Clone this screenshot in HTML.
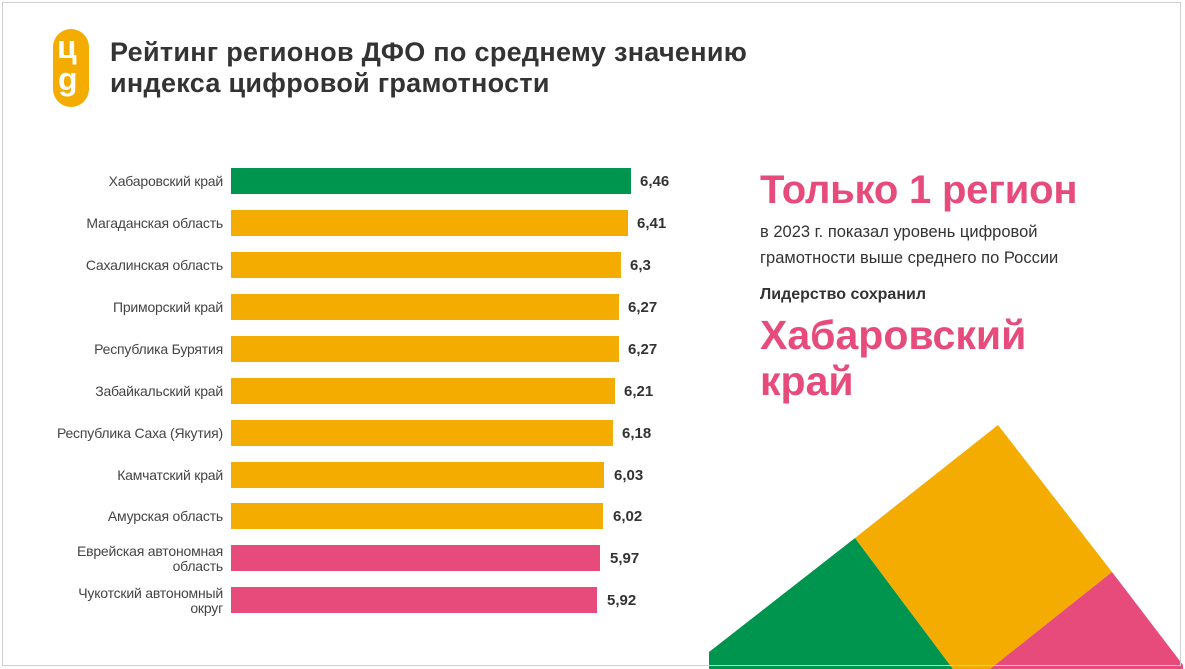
<!DOCTYPE html>
<html><head><meta charset="utf-8"><style>
body{margin:0;width:1185px;height:669px;background:#fff;overflow:hidden;position:relative;font-family:"Liberation Sans","DejaVu Sans",sans-serif}
.frame{position:absolute;left:2px;top:2px;width:1179px;height:664px;border:1px solid #cfcfcf;box-sizing:border-box}
.t{position:absolute;white-space:nowrap}
.lbl{position:absolute;right:962px;font-size:14px;color:#444;text-align:right;line-height:15px;letter-spacing:-0.2px}
.bar{position:absolute;left:231px;height:26px}
.val{position:absolute;font-size:15px;font-weight:bold;color:#333}
</style></head><body>
<svg width="1185" height="669" style="position:absolute;left:0;top:0">
<polygon points="709,652 855,538 953,669 709,669" fill="#00954E"/>
<polygon points="855,538 998,425 1112,572 990,669 953,669" fill="#F5AC00"/>
<polygon points="1112,572 1183,665 1183,669 990,669" fill="#E64B7B"/>
</svg>
<div class="frame"></div>
<div style="position:absolute;left:53px;top:29px;width:36px;height:78px;border-radius:18px;background:#F5AC00"></div>
<div class="t" style="left:57px;top:30px;font-size:32px;font-weight:bold;color:#fff;line-height:34px">ц</div>
<div class="t" style="left:58px;top:62px;font-size:32px;font-weight:bold;color:#fff;line-height:34px">g</div>
<div class="t" style="left:110px;top:37px;font-size:27px;font-weight:bold;color:#333;line-height:31px;letter-spacing:0.3px">Рейтинг регионов ДФО по среднему значению<br>индекса цифровой грамотности</div>

<div class="t" style="left:760px;top:168px;font-size:40px;font-weight:bold;color:#E64B7B;letter-spacing:-0.2px">Только 1 регион</div>
<div class="t" style="left:760px;top:219px;font-size:16.5px;color:#333;line-height:26px">в 2023 г. показал уровень цифровой<br>грамотности выше среднего по России</div>
<div class="t" style="left:760px;top:286px;font-size:16px;font-weight:bold;color:#333">Лидерство сохранил</div>
<div class="t" style="left:760px;top:312px;font-size:41px;font-weight:bold;color:#E64B7B;line-height:46px">Хабаровский<br>край</div>

<div class="lbl" style="top:174px">Хабаровский край</div>
<div class="bar" style="top:168px;width:400px;background:#00954E"></div><div class="val" style="left:640px;top:173px">6,46</div>
<div class="lbl" style="top:216px">Магаданская область</div>
<div class="bar" style="top:210px;width:397px;background:#F5AC00"></div><div class="val" style="left:637px;top:215px">6,41</div>
<div class="lbl" style="top:258px">Сахалинская область</div>
<div class="bar" style="top:252px;width:390px;background:#F5AC00"></div><div class="val" style="left:630px;top:257px">6,3</div>
<div class="lbl" style="top:300px">Приморский край</div>
<div class="bar" style="top:294px;width:388px;background:#F5AC00"></div><div class="val" style="left:628px;top:299px">6,27</div>
<div class="lbl" style="top:342px">Республика Бурятия</div>
<div class="bar" style="top:336px;width:388px;background:#F5AC00"></div><div class="val" style="left:628px;top:341px">6,27</div>
<div class="lbl" style="top:384px">Забайкальский край</div>
<div class="bar" style="top:378px;width:384px;background:#F5AC00"></div><div class="val" style="left:624px;top:383px">6,21</div>
<div class="lbl" style="top:426px">Республика Саха (Якутия)</div>
<div class="bar" style="top:420px;width:382px;background:#F5AC00"></div><div class="val" style="left:622px;top:425px">6,18</div>
<div class="lbl" style="top:468px">Камчатский край</div>
<div class="bar" style="top:462px;width:373px;background:#F5AC00"></div><div class="val" style="left:614px;top:467px">6,03</div>
<div class="lbl" style="top:509px">Амурская область</div>
<div class="bar" style="top:503px;width:372px;background:#F5AC00"></div><div class="val" style="left:613px;top:508px">6,02</div>
<div class="lbl" style="top:544px">Еврейская автономная<br>область</div>
<div class="bar" style="top:545px;width:369px;background:#E64B7B"></div><div class="val" style="left:610px;top:550px">5,97</div>
<div class="lbl" style="top:586px">Чукотский автономный<br>округ</div>
<div class="bar" style="top:587px;width:366px;background:#E64B7B"></div><div class="val" style="left:607px;top:592px">5,92</div>
</body></html>
